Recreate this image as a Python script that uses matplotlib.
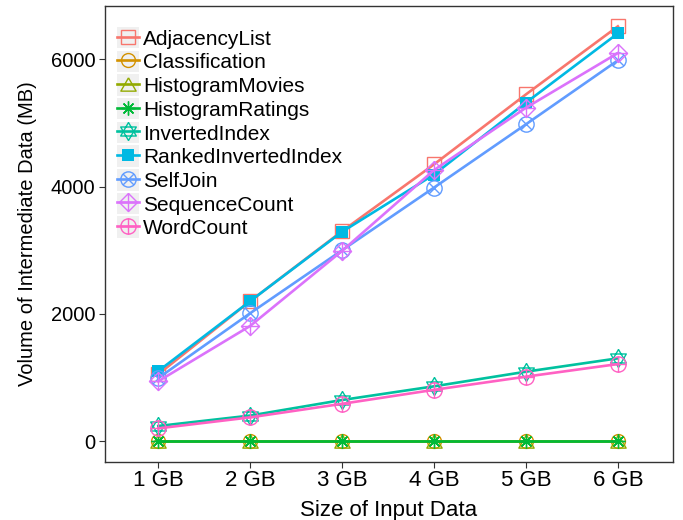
import numpy as np
import matplotlib
matplotlib.use("Agg")
import matplotlib.pyplot as plt
from matplotlib.path import Path
from matplotlib.patches import Rectangle
from matplotlib.legend_handler import HandlerLine2D

plt.rcParams['font.family'] = ['Liberation Sans', 'DejaVu Sans']

sizes = ["1 GB", "2 GB", "3 GB", "4 GB", "5 GB", "6 GB"]
series_names = ["AdjacencyList", "Classification", "HistogramMovies", "HistogramRatings",
                "InvertedIndex", "RankedInvertedIndex", "SelfJoin", "SequenceCount", "WordCount"]
adjacency_list = [1050, 2200, 3300, 4350, 5450, 6520]
classification = [0, 0, 0, 0, 0, 0]
histogram_movies = [0, 0, 0, 0, 0, 0]
histogram_ratings = [0, 0, 0, 0, 0, 0]
inverted_index = [236, 400, 645, 860, 1090, 1300]
ranked_inverted_index = [1100, 2200, 3290, 4190, 5320, 6410]
self_join = [990, 2010, 3000, 3985, 4980, 5985]
sequence_count = [940, 1810, 2990, 4260, 5240, 6100]
word_count = [199, 372, 585, 805, 1012, 1210]
values = [adjacency_list, classification, histogram_movies, histogram_ratings,
          inverted_index, ranked_inverted_index, self_join, sequence_count, word_count]
colors = ["#F8766D", "#D39200", "#93AA00", "#00BA38", "#00C19F",
          "#00B9E3", "#619CFF", "#DB72FB", "#FF61C3"]

M, L = Path.MOVETO, Path.LINETO
def seg(a, b):
    return Path([a, b], [M, L])
r = 0.7071
circle = Path.unit_circle()
tri_up = Path([[0, 1], [-0.866, -0.5], [0.866, -0.5], [0, 1]], [M, L, L, L])
tri_dn = Path([[0, -1], [-0.866, 0.5], [0.866, 0.5], [0, -1]], [M, L, L, L])
star_david = Path.make_compound_path(tri_up, tri_dn)
circle_x = Path.make_compound_path(circle, seg((-r, -r), (r, r)), seg((-r, r), (r, -r)))
diamond = Path([[0, 1], [1, 0], [0, -1], [-1, 0], [0, 1]], [M, L, L, L, L])
diamond_plus = Path.make_compound_path(diamond, seg((-1, 0), (1, 0)), seg((0, -1), (0, 1)))
circle_plus = Path.make_compound_path(circle, seg((-1, 0), (1, 0)), seg((0, -1), (0, 1)))
triangle = Path([[0, 0.8], [-0.92, -0.8], [0.92, -0.8], [0, 0.8]], [M, L, L, L])

markers = ['s', 'o', triangle, (8, 2, 0), star_david, 's', circle_x, diamond_plus, circle_plus]
sizes_m = [10, 10, 11, 10, 13, 9, 11, 13, 11]
filled = [False, False, False, False, False, True, False, False, False]

fig = plt.figure(figsize=(6.83, 5.2), dpi=100)
ax = fig.add_axes([105/683, 1 - 462/520, (673 - 105)/683, (462 - 6)/520])

x = np.arange(1, len(sizes) + 1)
for name, vals, c, mk, ms, fl in zip(series_names, values, colors, markers, sizes_m, filled):
    ax.plot(x, vals, color=c, lw=1.9, marker=mk, markersize=ms,
            markerfacecolor=c if fl else 'none', markeredgecolor=c,
            markeredgewidth=0 if fl else 1.0, label=name)

ax.set_xlim(0.42, 6.6)
ax.set_ylim(-330, 6840)
ax.set_xticks(x)
ax.set_xticklabels(sizes)
ax.set_yticks([0, 2000, 4000, 6000])
ax.tick_params(axis='both', length=4, width=0.8, color='#333333',
               labelcolor='black', direction='out', pad=3)
ax.tick_params(axis='x', labelsize=16, pad=2)
ax.tick_params(axis='y', labelsize=14.5)
for s in ax.spines.values():
    s.set_color('#333333')
    s.set_linewidth(1.0)
ax.set_xlabel("Size of Input Data", fontsize=16, labelpad=6)
ax.set_ylabel("Volume of Intermediate Data (MB)", fontsize=14.5, labelpad=10)


class KeyHandler(HandlerLine2D):
    def create_artists(self, legend, orig_handle, xdescent, ydescent, width, height, fontsize, trans):
        arts = super().create_artists(legend, orig_handle, xdescent, ydescent, width, height, fontsize, trans)
        rect = Rectangle((-xdescent, -ydescent - 1), width, height + 2, facecolor='#F0F0F0',
                         edgecolor='none', transform=trans)
        return [rect] + list(arts)


leg = ax.legend(loc='upper left', bbox_to_anchor=(0.021, 0.951), frameon=False, fontsize=15,
                handlelength=1.05, handleheight=1.0, handletextpad=0.2, labelspacing=0.155,
                borderaxespad=0.0, borderpad=0.0, numpoints=1,
                handler_map={matplotlib.lines.Line2D: KeyHandler(numpoints=1)})

fig.savefig("out.png", dpi=100)
